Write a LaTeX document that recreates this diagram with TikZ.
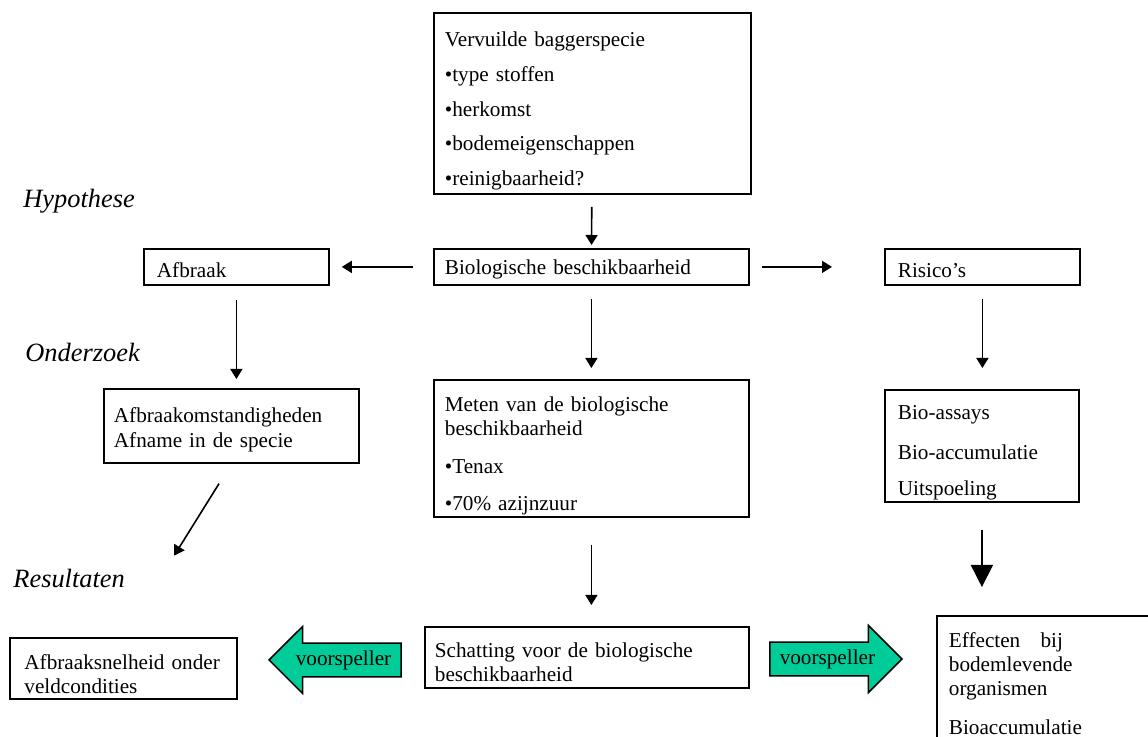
\documentclass[tikz,border=0pt]{standalone}
\usepackage{fontspec}
\setmainfont{Liberation Serif}
\usepackage{tikz}
\usetikzlibrary{arrows.meta,shapes.arrows}
\definecolor{groen}{RGB}{0,204,153}
\newcommand\tekst{\fontsize{10.6}{12}\selectfont}
\newcommand\kop{\fontsize{13.2}{15}\selectfont\itshape}
\tikzset{
  blok/.style={draw, line width=0.9pt, anchor=north west, align=left,
    inner xsep=5.5pt, inner ysep=0pt, font=\tekst},
  zak/.style={execute at begin node={\rule{0pt}{#1}}},
  fase/.style={anchor=base west, inner sep=0pt, font=\kop},
  pijl/.style={-{Triangle[width=6pt,length=5pt]}, line width=0.8pt},
  dikpijl/.style={-{Triangle[width=11pt,length=11pt]}, line width=0.8pt},
  voorsp/.style={single arrow, draw, fill=groen, line width=0.75pt,
    single arrow head extend=8.25pt, single arrow tip angle=90,
    minimum height=66pt, inner xsep=1pt, inner ysep=3.3pt, font=\tekst, anchor=tip}
}
\begin{document}
\begin{tikzpicture}[x=0.5pt,y=-0.5pt]
\useasboundingbox (0,0) rectangle (1148,737);
\node[fase] (H) at (23,208) {Hypothese};
\node[fase] (O) at (25,362) {Onderzoek};
\node[fase] (Res) at (13,588) {Resultaten};
\node[blok, zak=15pt, text width=147.5pt, minimum height=90.5pt] (V) at (433,12)
  {Vervuilde baggerspecie\\[5.3pt] •type stoffen\\[5.3pt] •herkomst\\[5.3pt] •bodemeigenschappen\\[5.3pt] •reinigbaarheid?};
\node[blok, zak=10.3pt, text width=146.5pt, minimum height=18pt] (B) at (433,248) {Biologische beschikbaarheid};
\node[blok, zak=10.3pt, text width=79.5pt, inner xsep=6.5pt, minimum height=18pt] (A) at (143,248) {Afbraak};
\node[blok, zak=10.3pt, text width=84.5pt, inner xsep=6.5pt, minimum height=18pt] (R) at (884,248) {Risico’s};
\node[blok, zak=11.3pt, text width=117.5pt, inner xsep=5pt, minimum height=37pt] (AO) at (103,388)
  {Afbraakomstandigheden\\[0.5pt] Afname in de specie};
\node[blok, zak=15pt, text width=146.5pt, minimum height=68.5pt] (M) at (433,379)
  {Meten van de biologische\\ beschikbaarheid\\[7pt] •Tenax\\[6.5pt] •70\% azijnzuur};
\node[blok, zak=14pt, text width=84pt, inner xsep=6.5pt, minimum height=56pt] (BA) at (884,389)
  {Bio-assays\\[8pt] Bio-accumulatie\\[6pt] Uitspoeling};
\node[blok, zak=13.3pt, text width=99pt, inner xsep=7.25pt, minimum height=30.5pt] (AS) at (9,637)
  {Afbraaksnelheid onder\\ veldcondities};
\node[blok, zak=12.3pt, text width=152pt, inner xsep=5pt, minimum height=30.5pt] (S) at (424,626)
  {Schatting voor de biologische\\ beschikbaarheid};
\node[blok, zak=9.3pt, text width=98pt, inner xsep=6pt, minimum height=66pt] (E) at (936,615)
  {\makebox[57pt][l]{Effecten\hfill bij}\\ bodemlevende\\ organismen\\[7.5pt] Bioaccumulatie};
\node[voorsp, shape border rotate=180] (VL) at (268,660) {voorspeller};
\node[voorsp] (VR) at (903,659) {voorspeller};
\draw[pijl, shorten <=6pt, shorten >=1.5pt] (V) -- (B);
\draw[pijl, shorten <=10pt, shorten >=6pt] (B) -- (A);
\draw[pijl, shorten <=6pt, shorten >=26pt] (B) -- (R);
\draw[pijl, shorten <=7pt, shorten >=4.5pt] (A) -- (A |- AO.north);
\draw[pijl, shorten <=6.5pt, shorten >=5.5pt] (B) -- (M);
\draw[pijl, shorten <=6.5pt, shorten >=10.5pt] (R) -- (R |- BA.north);
\draw[pijl, shorten <=11.7pt, shorten >=48pt] (AO.south) -- (AS.north);
\draw[pijl, shorten <=13.5pt, shorten >=10.5pt] (M) -- (M |- S.north);
\draw[dikpijl, shorten <=13.5pt, shorten >=14pt] (BA) -- (BA |- E.north);
\end{tikzpicture}
\end{document}
